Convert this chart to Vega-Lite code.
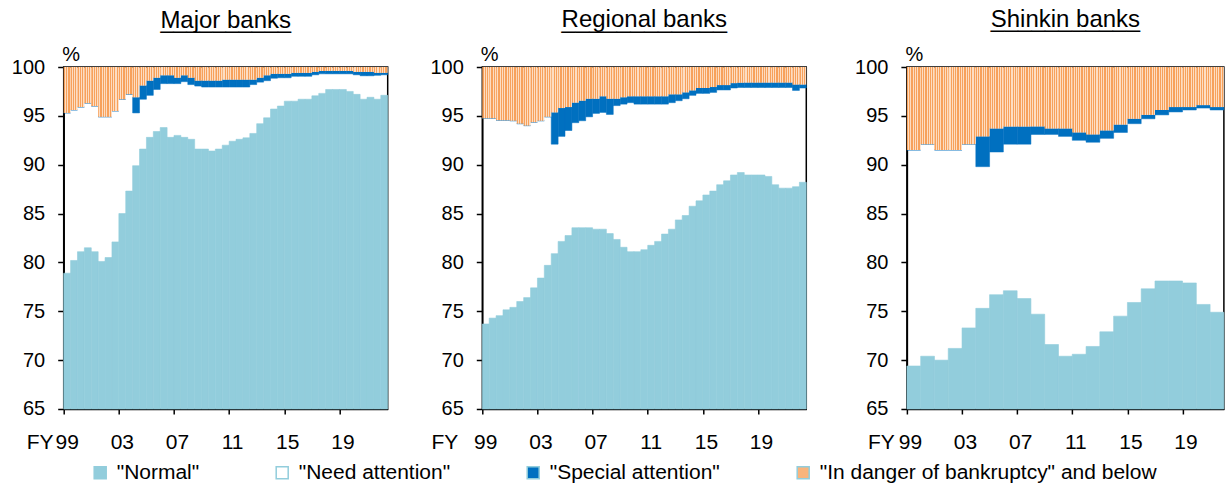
{
  "$schema": "https://vega.github.io/schema/vega-lite/v6.json",
  "background": "white",
  "padding": {"left": 7.7, "top": 6, "right": 0, "bottom": 0},
  "autosize": {"type": "pad"},
  "spacing": 36.6,
  "datasets": {
    "major": [
      {"p":1999.0,"q":1999.5,"n":78.9,"s0":95.3,"s1":95.3},
      {"p":1999.5,"q":2000.0,"n":80.2,"s0":95.6,"s1":95.6},
      {"p":2000.0,"q":2000.5,"n":81.1,"s0":95.9,"s1":95.9},
      {"p":2000.5,"q":2001.0,"n":81.5,"s0":96.3,"s1":96.3},
      {"p":2001.0,"q":2001.5,"n":81.1,"s0":96.0,"s1":96.0},
      {"p":2001.5,"q":2002.0,"n":80.1,"s0":94.9,"s1":94.9},
      {"p":2002.0,"q":2002.5,"n":80.5,"s0":94.9,"s1":94.9},
      {"p":2002.5,"q":2003.0,"n":82.1,"s0":95.5,"s1":95.5},
      {"p":2003.0,"q":2003.5,"n":85.0,"s0":96.7,"s1":96.7},
      {"p":2003.5,"q":2004.0,"n":87.3,"s0":97.2,"s1":97.2},
      {"p":2004.0,"q":2004.5,"n":89.9,"s0":95.3,"s1":96.9},
      {"p":2004.5,"q":2005.0,"n":91.6,"s0":96.7,"s1":98.1},
      {"p":2005.0,"q":2005.5,"n":92.8,"s0":97.1,"s1":98.6},
      {"p":2005.5,"q":2006.0,"n":93.4,"s0":97.7,"s1":98.9},
      {"p":2006.0,"q":2006.5,"n":93.8,"s0":98.3,"s1":99.15},
      {"p":2006.5,"q":2007.0,"n":92.8,"s0":98.3,"s1":99.15},
      {"p":2007.0,"q":2007.5,"n":93.0,"s0":98.3,"s1":98.9},
      {"p":2007.5,"q":2008.0,"n":92.8,"s0":98.5,"s1":99.15},
      {"p":2008.0,"q":2008.5,"n":92.6,"s0":98.2,"s1":98.9},
      {"p":2008.5,"q":2009.0,"n":91.6,"s0":98.05,"s1":98.6},
      {"p":2009.0,"q":2009.5,"n":91.6,"s0":97.95,"s1":98.6},
      {"p":2009.5,"q":2010.0,"n":91.4,"s0":97.95,"s1":98.6},
      {"p":2010.0,"q":2010.5,"n":91.6,"s0":97.95,"s1":98.6},
      {"p":2010.5,"q":2011.0,"n":92.0,"s0":97.95,"s1":98.7},
      {"p":2011.0,"q":2011.5,"n":92.4,"s0":97.95,"s1":98.7},
      {"p":2011.5,"q":2012.0,"n":92.6,"s0":97.95,"s1":98.7},
      {"p":2012.0,"q":2012.5,"n":92.75,"s0":97.95,"s1":98.7},
      {"p":2012.5,"q":2013.0,"n":93.2,"s0":98.2,"s1":98.7},
      {"p":2013.0,"q":2013.5,"n":94.2,"s0":98.45,"s1":98.9},
      {"p":2013.5,"q":2014.0,"n":94.8,"s0":98.6,"s1":99.15},
      {"p":2014.0,"q":2014.5,"n":95.7,"s0":98.85,"s1":99.3},
      {"p":2014.5,"q":2015.0,"n":96.0,"s0":98.9,"s1":99.3},
      {"p":2015.0,"q":2015.5,"n":96.5,"s0":98.9,"s1":99.3},
      {"p":2015.5,"q":2016.0,"n":96.5,"s0":99.05,"s1":99.4},
      {"p":2016.0,"q":2016.5,"n":96.7,"s0":99.05,"s1":99.4},
      {"p":2016.5,"q":2017.0,"n":96.7,"s0":99.05,"s1":99.4},
      {"p":2017.0,"q":2017.5,"n":97.05,"s0":99.2,"s1":99.5},
      {"p":2017.5,"q":2018.0,"n":97.3,"s0":99.3,"s1":99.6},
      {"p":2018.0,"q":2018.5,"n":97.7,"s0":99.3,"s1":99.6},
      {"p":2018.5,"q":2019.0,"n":97.7,"s0":99.3,"s1":99.6},
      {"p":2019.0,"q":2019.5,"n":97.7,"s0":99.3,"s1":99.6},
      {"p":2019.5,"q":2020.0,"n":97.5,"s0":99.3,"s1":99.6},
      {"p":2020.0,"q":2020.5,"n":97.2,"s0":99.2,"s1":99.5},
      {"p":2020.5,"q":2021.0,"n":96.7,"s0":99.1,"s1":99.5},
      {"p":2021.0,"q":2021.5,"n":96.9,"s0":99.1,"s1":99.5},
      {"p":2021.5,"q":2022.0,"n":96.7,"s0":99.15,"s1":99.4},
      {"p":2022.0,"q":2022.5,"n":97.1,"s0":99.2,"s1":99.4}
    ],
    "regional": [
      {"p":1999.0,"q":1999.5,"n":73.7,"s0":94.75,"s1":94.75},
      {"p":1999.5,"q":2000.0,"n":74.3,"s0":94.75,"s1":94.75},
      {"p":2000.0,"q":2000.5,"n":74.55,"s0":94.55,"s1":94.55},
      {"p":2000.5,"q":2001.0,"n":75.15,"s0":94.55,"s1":94.55},
      {"p":2001.0,"q":2001.5,"n":75.4,"s0":94.5,"s1":94.5},
      {"p":2001.5,"q":2002.0,"n":76.0,"s0":94.2,"s1":94.2},
      {"p":2002.0,"q":2002.5,"n":76.4,"s0":94.0,"s1":94.0},
      {"p":2002.5,"q":2003.0,"n":77.4,"s0":94.35,"s1":94.35},
      {"p":2003.0,"q":2003.5,"n":78.4,"s0":94.5,"s1":94.5},
      {"p":2003.5,"q":2004.0,"n":79.7,"s0":94.9,"s1":94.9},
      {"p":2004.0,"q":2004.5,"n":80.9,"s0":92.1,"s1":95.35},
      {"p":2004.5,"q":2005.0,"n":82.15,"s0":92.9,"s1":95.8},
      {"p":2005.0,"q":2005.5,"n":82.75,"s0":93.5,"s1":95.9},
      {"p":2005.5,"q":2006.0,"n":83.55,"s0":94.3,"s1":96.35},
      {"p":2006.0,"q":2006.5,"n":83.55,"s0":94.5,"s1":96.55},
      {"p":2006.5,"q":2007.0,"n":83.55,"s0":94.9,"s1":96.75},
      {"p":2007.0,"q":2007.5,"n":83.4,"s0":95.25,"s1":96.75},
      {"p":2007.5,"q":2008.0,"n":83.4,"s0":95.35,"s1":97.0},
      {"p":2008.0,"q":2008.5,"n":82.95,"s0":95.15,"s1":96.75},
      {"p":2008.5,"q":2009.0,"n":82.35,"s0":96.05,"s1":96.75},
      {"p":2009.0,"q":2009.5,"n":81.55,"s0":96.2,"s1":96.9},
      {"p":2009.5,"q":2010.0,"n":81.1,"s0":96.35,"s1":97.0},
      {"p":2010.0,"q":2010.5,"n":81.1,"s0":96.2,"s1":97.0},
      {"p":2010.5,"q":2011.0,"n":81.3,"s0":96.2,"s1":97.0},
      {"p":2011.0,"q":2011.5,"n":81.75,"s0":96.2,"s1":97.0},
      {"p":2011.5,"q":2012.0,"n":82.15,"s0":96.2,"s1":97.0},
      {"p":2012.0,"q":2012.5,"n":82.9,"s0":96.2,"s1":97.0},
      {"p":2012.5,"q":2013.0,"n":83.4,"s0":96.35,"s1":97.2},
      {"p":2013.0,"q":2013.5,"n":84.35,"s0":96.55,"s1":97.2},
      {"p":2013.5,"q":2014.0,"n":84.8,"s0":96.75,"s1":97.4},
      {"p":2014.0,"q":2014.5,"n":85.75,"s0":97.1,"s1":97.6},
      {"p":2014.5,"q":2015.0,"n":86.3,"s0":97.3,"s1":97.85},
      {"p":2015.0,"q":2015.5,"n":86.9,"s0":97.3,"s1":97.85},
      {"p":2015.5,"q":2016.0,"n":87.3,"s0":97.4,"s1":97.95},
      {"p":2016.0,"q":2016.5,"n":87.95,"s0":97.65,"s1":98.15},
      {"p":2016.5,"q":2017.0,"n":88.35,"s0":97.65,"s1":98.15},
      {"p":2017.0,"q":2017.5,"n":88.95,"s0":97.85,"s1":98.35},
      {"p":2017.5,"q":2018.0,"n":89.2,"s0":97.9,"s1":98.4},
      {"p":2018.0,"q":2018.5,"n":88.95,"s0":97.9,"s1":98.4},
      {"p":2018.5,"q":2019.0,"n":88.95,"s0":97.9,"s1":98.4},
      {"p":2019.0,"q":2019.5,"n":88.95,"s0":97.9,"s1":98.4},
      {"p":2019.5,"q":2020.0,"n":88.8,"s0":97.9,"s1":98.4},
      {"p":2020.0,"q":2020.5,"n":87.95,"s0":97.9,"s1":98.4},
      {"p":2020.5,"q":2021.0,"n":87.6,"s0":97.9,"s1":98.4},
      {"p":2021.0,"q":2021.5,"n":87.6,"s0":97.9,"s1":98.4},
      {"p":2021.5,"q":2022.0,"n":87.75,"s0":97.6,"s1":98.2},
      {"p":2022.0,"q":2022.5,"n":88.2,"s0":97.85,"s1":98.2}
    ],
    "shinkin": [
      {"p":1999,"q":2000,"n":69.4,"s0":91.5,"s1":91.5},
      {"p":2000,"q":2001,"n":70.4,"s0":92.1,"s1":92.1},
      {"p":2001,"q":2002,"n":70.0,"s0":91.5,"s1":91.5},
      {"p":2002,"q":2003,"n":71.2,"s0":91.5,"s1":91.5},
      {"p":2003,"q":2004,"n":73.3,"s0":92.1,"s1":92.1},
      {"p":2004,"q":2005,"n":75.3,"s0":89.8,"s1":92.9},
      {"p":2005,"q":2006,"n":76.7,"s0":91.3,"s1":93.7},
      {"p":2006,"q":2007,"n":77.1,"s0":92.1,"s1":93.9},
      {"p":2007,"q":2008,"n":76.3,"s0":92.1,"s1":93.9},
      {"p":2008,"q":2009,"n":74.7,"s0":93.1,"s1":93.9},
      {"p":2009,"q":2010,"n":71.6,"s0":93.1,"s1":93.7},
      {"p":2010,"q":2011,"n":70.4,"s0":92.9,"s1":93.7},
      {"p":2011,"q":2012,"n":70.6,"s0":92.5,"s1":93.3},
      {"p":2012,"q":2013,"n":71.4,"s0":92.3,"s1":93.1},
      {"p":2013,"q":2014,"n":72.9,"s0":92.7,"s1":93.5},
      {"p":2014,"q":2015,"n":74.5,"s0":93.3,"s1":94.1},
      {"p":2015,"q":2016,"n":75.9,"s0":94.2,"s1":94.7},
      {"p":2016,"q":2017,"n":77.3,"s0":94.7,"s1":95.1},
      {"p":2017,"q":2018,"n":78.1,"s0":95.1,"s1":95.6},
      {"p":2018,"q":2019,"n":78.1,"s0":95.4,"s1":95.9},
      {"p":2019,"q":2020,"n":77.9,"s0":95.6,"s1":95.9},
      {"p":2020,"q":2021,"n":75.7,"s0":95.8,"s1":96.1},
      {"p":2021,"q":2022,"n":74.9,"s0":95.6,"s1":95.9}
    ]
  },
  "hconcat": [
    {
      "width": 324, "height": 342,
      "title": {"text": "Major banks", "offset": 11, "subtitle": "__________", "subtitleFontSize": 23.5, "subtitlePadding": -24},
      "data": {"name": "major"},
      "encoding": {
        "x": {"field": "p", "type": "quantitative", "scale": {"domain": [1999, 2022.5], "nice": false, "zero": false},
              "axis": {"values": [1999, 2003, 2007, 2011, 2015, 2019], "labelExpr": "substring(toString(datum.value), 2)", "title": "FY", "titleX": -24}},
        "x2": {"field": "q"}
      },
      "layer": [
        {"mark": {"type": "bar", "stroke": "#92CDDC", "strokeWidth": 0.6},
         "encoding": {"y": {"field": "n", "type": "quantitative", "scale": {"domain": [65, 100], "nice": false, "zero": false}, "axis": {"values": [65,70,75,80,85,90,95,100], "title": "%"}},
                      "y2": {"datum": 65},
                      "color": {"datum": "\"Normal\"", "type": "nominal",
                                "scale": {"domain": ["\"Normal\"", "\"Need attention\"", "\"Special attention\"", "\"In danger of bankruptcy\" and below"],
                                          "range": ["#92CDDC", "#FFFFFF", "#0070C0", "#F9B47C"]},
                                "legend": {"orient": "none", "legendX": 26, "legendY": 395, "direction": "horizontal", "title": null, "columnPadding": 72, "labelFontSize": 21, "labelFont": "Liberation Sans", "labelColor": "black", "labelLimit": 0, "symbolType": "square", "symbolSize": 144, "labelOffset": 6,
                                           "encode": {"symbols": {"update": {
                                             "stroke": {"signal": "datum.value === '\"Need attention\"' ? '#000000' : 'transparent'"},
                                             "strokeWidth": {"value": 1.6},
                                             "size": {"signal": "datum.value === '\"Need attention\"' ? 100 : 144"},
                                             "fill": {"signal": "datum.value === '\"In danger of bankruptcy\" and below' ? {gradient: 'linear', stops: [{offset: 0, color: '#F7A15B'}, {offset: 0.18, color: '#F7A15B'}, {offset: 0.18, color: '#FDDDC2'}, {offset: 0.333, color: '#FDDDC2'}, {offset: 0.333, color: '#F7A15B'}, {offset: 0.513, color: '#F7A15B'}, {offset: 0.513, color: '#FDDDC2'}, {offset: 0.667, color: '#FDDDC2'}, {offset: 0.667, color: '#F7A15B'}, {offset: 0.847, color: '#F7A15B'}, {offset: 0.847, color: '#FDDDC2'}, {offset: 1, color: '#FDDDC2'}]} : scale('color', datum.value)"}
                                           }}}}}}},
        {"mark": {"type": "bar", "stroke": "#0070C0", "strokeWidth": 0.5},
         "encoding": {"y": {"field": "s0", "type": "quantitative", "axis": {"values": [65,70,75,80,85,90,95,100], "title": "%"}},
                      "y2": {"field": "s1"},
                      "color": {"datum": "\"Special attention\"", "type": "nominal"}}},
        {"mark": {"type": "bar", "fill": {"gradient": "linear", "stops": [{"offset":0,"color":"#F7A15B"},{"offset":0.18,"color":"#F7A15B"},{"offset":0.18,"color":"#FDDDC2"},{"offset":0.333,"color":"#FDDDC2"},{"offset":0.333,"color":"#F7A15B"},{"offset":0.513,"color":"#F7A15B"},{"offset":0.513,"color":"#FDDDC2"},{"offset":0.667,"color":"#FDDDC2"},{"offset":0.667,"color":"#F7A15B"},{"offset":0.847,"color":"#F7A15B"},{"offset":0.847,"color":"#FDDDC2"},{"offset":1,"color":"#FDDDC2"}]}},
         "encoding": {"y": {"field": "s1", "type": "quantitative", "axis": {"values": [65,70,75,80,85,90,95,100], "title": "%"}},
                      "y2": {"datum": 100}}}
      ]
    },
    {
      "width": 324, "height": 342,
      "title": {"text": "Regional banks", "offset": 11, "subtitle": "____________", "subtitleFontSize": 24.8, "subtitlePadding": -24},
      "data": {"name": "regional"},
      "encoding": {
        "x": {"field": "p", "type": "quantitative", "scale": {"domain": [1999, 2022.5], "nice": false, "zero": false},
              "axis": {"values": [1999, 2003, 2007, 2011, 2015, 2019], "labelExpr": "substring(toString(datum.value), 2)", "title": "FY", "titleX": -38}},
        "x2": {"field": "q"}
      },
      "layer": [
        {"mark": {"type": "bar", "stroke": "#92CDDC", "strokeWidth": 0.6},
         "encoding": {"y": {"field": "n", "type": "quantitative", "scale": {"domain": [65, 100], "nice": false, "zero": false}, "axis": {"values": [65,70,75,80,85,90,95,100], "title": "%"}},
                      "y2": {"datum": 65},
                      "color": {"datum": "\"Normal\"", "type": "nominal"}}},
        {"mark": {"type": "bar", "stroke": "#0070C0", "strokeWidth": 0.5},
         "encoding": {"y": {"field": "s0", "type": "quantitative", "axis": {"values": [65,70,75,80,85,90,95,100], "title": "%"}},
                      "y2": {"field": "s1"},
                      "color": {"datum": "\"Special attention\"", "type": "nominal"}}},
        {"mark": {"type": "bar", "fill": {"gradient": "linear", "stops": [{"offset":0,"color":"#F7A15B"},{"offset":0.18,"color":"#F7A15B"},{"offset":0.18,"color":"#FDDDC2"},{"offset":0.333,"color":"#FDDDC2"},{"offset":0.333,"color":"#F7A15B"},{"offset":0.513,"color":"#F7A15B"},{"offset":0.513,"color":"#FDDDC2"},{"offset":0.667,"color":"#FDDDC2"},{"offset":0.667,"color":"#F7A15B"},{"offset":0.847,"color":"#F7A15B"},{"offset":0.847,"color":"#FDDDC2"},{"offset":1,"color":"#FDDDC2"}]}},
         "encoding": {"y": {"field": "s1", "type": "quantitative", "axis": {"values": [65,70,75,80,85,90,95,100], "title": "%"}},
                      "y2": {"datum": 100}}}
      ]
    },
    {
      "width": 317, "height": 342,
      "title": {"text": "Shinkin banks", "offset": 11, "subtitle": "___________", "subtitleFontSize": 24.4, "subtitlePadding": -24},
      "data": {"name": "shinkin"},
      "encoding": {
        "x": {"field": "p", "type": "quantitative", "scale": {"domain": [1999, 2022], "nice": false, "zero": false},
              "axis": {"values": [1999, 2003, 2007, 2011, 2015, 2019], "labelExpr": "substring(toString(datum.value), 2)", "title": "FY", "titleX": -26}},
        "x2": {"field": "q"}
      },
      "layer": [
        {"mark": {"type": "bar", "stroke": "#92CDDC", "strokeWidth": 0.6},
         "encoding": {"y": {"field": "n", "type": "quantitative", "scale": {"domain": [65, 100], "nice": false, "zero": false}, "axis": {"values": [65,70,75,80,85,90,95,100], "title": "%", "minExtent": 60.8, "maxExtent": 60.8}},
                      "y2": {"datum": 65},
                      "color": {"datum": "\"Normal\"", "type": "nominal"}}},
        {"mark": {"type": "bar", "stroke": "#0070C0", "strokeWidth": 0.5},
         "encoding": {"y": {"field": "s0", "type": "quantitative", "axis": {"values": [65,70,75,80,85,90,95,100], "title": "%", "minExtent": 60.8, "maxExtent": 60.8}},
                      "y2": {"field": "s1"},
                      "color": {"datum": "\"Special attention\"", "type": "nominal"}}},
        {"mark": {"type": "bar", "fill": {"gradient": "linear", "stops": [{"offset":0,"color":"#F7A15B"},{"offset":0.09,"color":"#F7A15B"},{"offset":0.09,"color":"#FDDDC2"},{"offset":0.1667,"color":"#FDDDC2"},{"offset":0.1667,"color":"#F7A15B"},{"offset":0.2567,"color":"#F7A15B"},{"offset":0.2567,"color":"#FDDDC2"},{"offset":0.3333,"color":"#FDDDC2"},{"offset":0.3333,"color":"#F7A15B"},{"offset":0.4233,"color":"#F7A15B"},{"offset":0.4233,"color":"#FDDDC2"},{"offset":0.5,"color":"#FDDDC2"},{"offset":0.5,"color":"#F7A15B"},{"offset":0.59,"color":"#F7A15B"},{"offset":0.59,"color":"#FDDDC2"},{"offset":0.6667,"color":"#FDDDC2"},{"offset":0.6667,"color":"#F7A15B"},{"offset":0.7567,"color":"#F7A15B"},{"offset":0.7567,"color":"#FDDDC2"},{"offset":0.8333,"color":"#FDDDC2"},{"offset":0.8333,"color":"#F7A15B"},{"offset":0.9233,"color":"#F7A15B"},{"offset":0.9233,"color":"#FDDDC2"},{"offset":1,"color":"#FDDDC2"}]}},
         "encoding": {"y": {"field": "s1", "type": "quantitative", "axis": {"values": [65,70,75,80,85,90,95,100], "title": "%", "minExtent": 60.8, "maxExtent": 60.8}},
                      "y2": {"datum": 100}}}
      ]
    }
  ],
  "config": {
    "font": "Liberation Sans",
    "view": {"stroke": "black", "strokeWidth": 1.5},
    "title": {"font": "Liberation Sans", "fontSize": 24, "fontWeight": "normal", "color": "black", "anchor": "middle", "subtitleFont": "Liberation Sans", "subtitleColor": "black"},
    "axis": {"domainColor": "black", "domainWidth": 1.5, "tickColor": "black", "tickWidth": 1.5, "labelColor": "black", "titleColor": "black", "grid": false, "labelFont": "Liberation Sans", "titleFont": "Liberation Sans", "titleFontWeight": "normal", "labelFlush": false, "labelOverlap": false},
    "axisX": {"labelFontSize": 21, "tickSize": 5, "labelPadding": 18, "labelOffset": 3, "titleFontSize": 21, "titleBaseline": "top", "titleAlign": "center", "titleY": 23},
    "axisY": {"labelFontSize": 20, "tickSize": 6, "labelPadding": 13, "titleFontSize": 20, "titleAngle": 0, "titleAlign": "left", "titleBaseline": "alphabetic", "titleX": -2, "titleY": -7, "minExtent": 55, "maxExtent": 55}
  }
}
